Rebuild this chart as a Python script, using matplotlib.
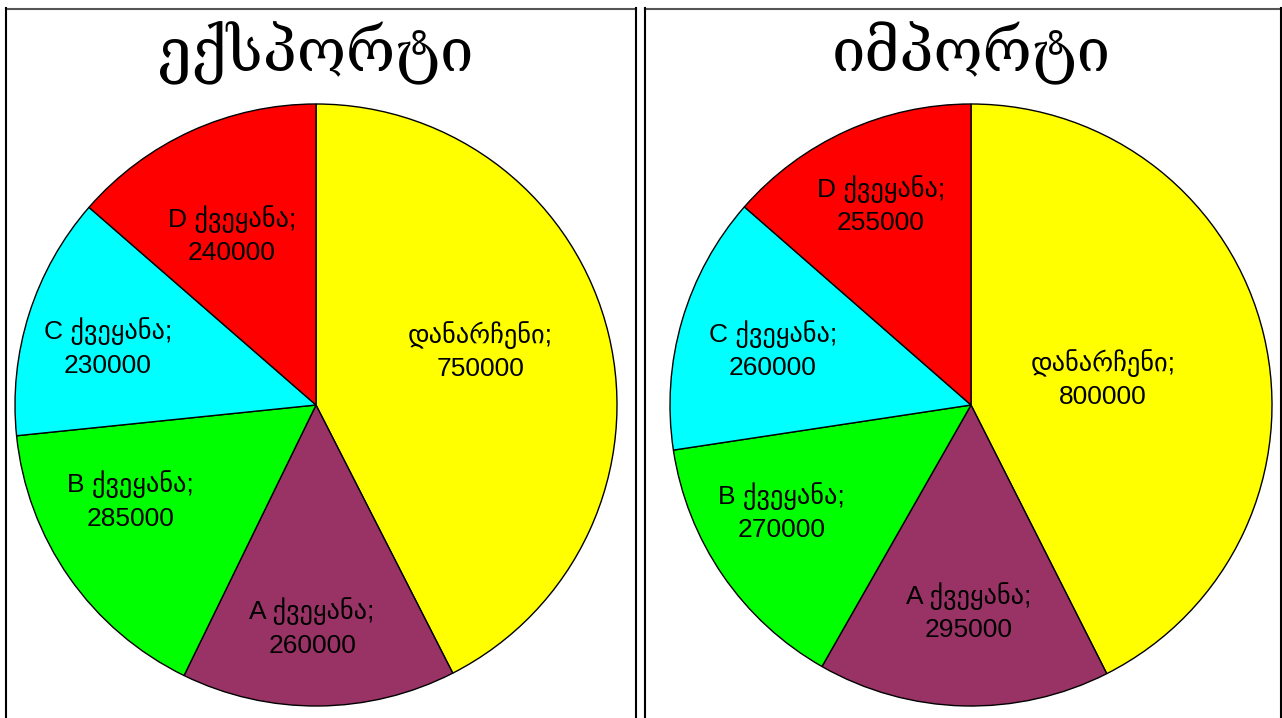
"""
Export / import pie charts (Georgian labels)
"""

import matplotlib
matplotlib.use("Agg")
import matplotlib.pyplot as plt
from matplotlib.lines import Line2D
import numpy as np

# Data
titles = ["ექსპორტი", "იმპორტი"]
categories = ["დანარჩენი", "A ქვეყანა", "B ქვეყანა", "C ქვეყანა", "D ქვეყანა"]
export_values = [750000, 260000, 285000, 230000, 240000]
import_values = [800000, 295000, 270000, 260000, 255000]
colors = ["#FFFF00", "#993366", "#00FF00", "#00FFFF", "#FF0000"]

# label placement: distance from centre (fraction of radius) and
# clockwise shift (degrees) from the wedge's middle angle
label_dist = [
    [0.574, 0.74, 0.694, 0.717, 0.63],
    [0.447, 0.688, 0.724, 0.683, 0.729],
]
label_shift = [
    [-4.7, 1.5, 7.7, -2.1, -1.9],
    [2.3, -0.8, 5.0, -0.8, 0.2],
]

W, H = 1282, 718
fig = plt.figure(figsize=(W / 100, H / 100), dpi=100)
fig.patch.set_facecolor("white")

# panel frames (pixel coords -> figure fraction)
def px_line(x0, y0, x1, y1, color):
    fig.add_artist(Line2D([x0 / W, x1 / W], [1 - y0 / H, 1 - y1 / H],
                          transform=fig.transFigure, color=color, lw=1.5))

for left, right in [(6, 636), (645, 1281)]:
    px_line(left, 8.5, right, 8.5, "#555555")
    px_line(left, 8, left, H, "black")
    px_line(right, 8, right, H, "black")

centers = [(316, 405), (971, 405)]
radius = 301
label_font = ["Liberation Sans", "DejaVu Sans"]

for k, values in enumerate([export_values, import_values]):
    cx, cy = centers[k]
    ax = fig.add_axes([(cx - radius) / W, (H - cy - radius) / H,
                       2 * radius / W, 2 * radius / H])
    wedges, _ = ax.pie(values, colors=colors, startangle=90, counterclock=False,
                       wedgeprops=dict(edgecolor="black", linewidth=1.0))
    ax.set_xlim(-1, 1)
    ax.set_ylim(-1, 1)
    ax.set_aspect("auto")
    ax.axis("off")

    for i, w in enumerate(wedges):
        mid = np.deg2rad((w.theta1 + w.theta2) / 2 - label_shift[k][i])
        d = label_dist[k][i]
        ax.text(d * np.cos(mid), d * np.sin(mid),
                f"{categories[i]};\n{values[i]}",
                ha="center", va="center", fontsize=19, linespacing=1.45,
                family=label_font, color="black")

    fig.text(cx / W, 1 - 53 / H, titles[k], ha="center", va="center",
             fontsize=43, family=["DejaVu Serif", "DejaVu Sans"])

fig.savefig("out.png", dpi=100)
